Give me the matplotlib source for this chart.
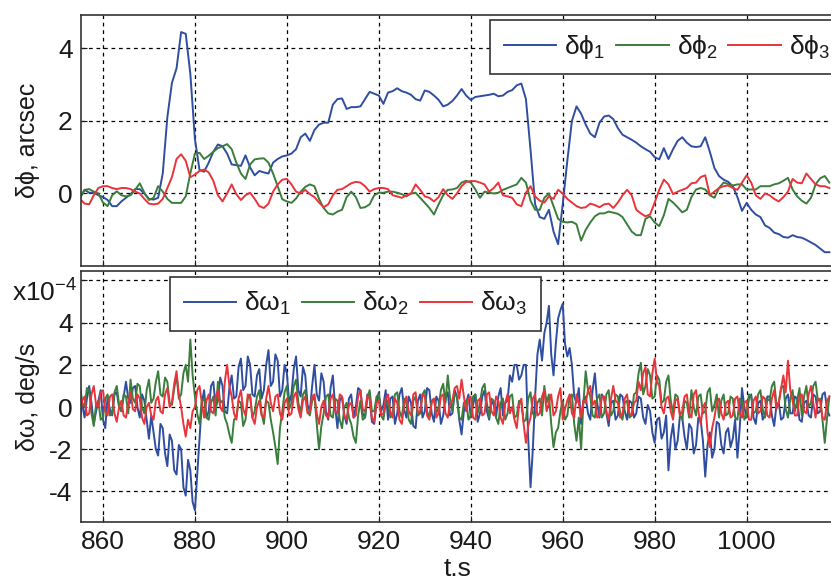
#! /usr/bin/env python3
# Attitude error (arcsec) and rate error (deg/s) vs time, two stacked panels

import numpy as np
import matplotlib
matplotlib.use("Agg")
import matplotlib.pyplot as plt

# time stamps: 1 s step for the angle errors, 0.5 s for the rate errors
t = np.arange(855, 1019)
t_w = np.arange(855, 1018.5, 0.5)

# top panel: delta phi, arcsec
dphi1 = [
    -0.12, 0.10, 0.02, 0.02, -0.05, -0.10, -0.18, -0.35, -0.35, -0.22,
    -0.12, -0.02, 0.12, 0.12, 0.00, -0.15, -0.17, -0.12, 0.55, 2.10,
    3.05, 3.45, 4.45, 4.40, 3.30, 1.50, 0.65, 0.60, 0.85, 1.15,
    1.35, 1.30, 1.10, 0.80, 0.78, 0.76, 1.05, 0.72, 0.50, 0.62,
    0.58, 0.55, 0.85, 0.95, 1.02, 1.05, 1.10, 1.22, 1.55, 1.65,
    1.45, 1.75, 1.90, 1.95, 1.95, 2.45, 2.60, 2.62, 2.33, 2.38,
    2.38, 2.40, 2.60, 2.80, 2.75, 2.70, 2.47, 2.78, 2.82, 2.90,
    2.82, 2.78, 2.72, 2.60, 2.56, 2.84, 2.80, 2.70, 2.58, 2.40,
    2.45, 2.55, 2.70, 2.88, 2.70, 2.58, 2.66, 2.68, 2.70, 2.72,
    2.75, 2.68, 2.70, 2.80, 2.85, 2.98, 3.03, 2.60, 1.20, -0.30,
    -0.65, -0.70, -0.45, -1.05, -1.40, -0.30, 0.90, 2.00, 2.40, 2.20,
    1.90, 1.65, 1.55, 1.95, 2.12, 2.15, 2.05, 1.80, 1.62, 1.55,
    1.48, 1.40, 1.30, 1.22, 1.15, 1.00, 0.94, 1.25, 0.95, 1.22,
    1.45, 1.55, 1.40, 1.30, 1.28, 1.30, 1.55, 1.15, 0.70, 0.48,
    0.38, 0.32, 0.20, -0.10, -0.48, -0.26, -0.45, -0.58, -0.65, -0.88,
    -0.95, -1.08, -1.12, -1.20, -1.22, -1.15, -1.20, -1.22, -1.28, -1.35,
    -1.42, -1.52, -1.62, -1.62,
]
dphi2 = [
    -0.12, 0.10, 0.12, 0.05, 0.00, -0.25, -0.35, -0.05, 0.06, -0.05,
    -0.08, -0.05, 0.10, 0.28, 0.02, -0.18, -0.12, 0.20, 0.05, -0.15,
    -0.26, -0.26, -0.26, -0.08, 0.55, 1.10, 1.12, 0.95, 1.04, 1.15,
    1.25, 1.30, 1.36, 1.22, 0.85, 0.55, 0.40, 0.80, 0.94, 0.96,
    0.97, 0.85, 0.55, 0.20, -0.16, -0.22, -0.26, -0.14, 0.05, 0.18,
    0.25, 0.20, -0.15, -0.40, -0.55, -0.58, -0.50, -0.45, -0.10, 0.05,
    -0.10, -0.40, -0.38, -0.30, -0.05, 0.02, 0.02, 0.05, 0.05, 0.02,
    -0.02, -0.08, 0.00, 0.02, -0.12, -0.26, -0.40, -0.58, -0.30, -0.05,
    0.10, 0.11, 0.15, 0.30, 0.35, 0.30, 0.11, -0.12, 0.05, 0.02,
    0.00, 0.02, 0.10, 0.15, 0.20, 0.25, 0.43, 0.30, -0.20, -0.45,
    -0.45, -0.12, 0.00, -0.35, -0.70, -0.78, -0.80, -0.78, -0.85, -1.30,
    -1.00, -0.80, -0.63, -0.55, -0.55, -0.50, -0.53, -0.56, -0.65, -0.85,
    -1.05, -1.15, -1.15, -0.70, -0.63, -0.80, -0.90, -0.60, -0.15, -0.25,
    -0.38, -0.52, -0.45, -0.10, 0.11, 0.15, 0.11, -0.05, -0.12, 0.15,
    0.30, 0.26, 0.22, 0.25, 0.25, 0.11, 0.11, 0.11, 0.20, 0.20,
    0.20, 0.25, 0.28, 0.35, 0.43, 0.11, -0.08, -0.20, -0.28, -0.12,
    0.25, 0.42, 0.48, 0.30,
]
dphi3 = [
    -0.15, -0.28, -0.30, -0.05, 0.15, 0.20, 0.20, 0.15, 0.12, 0.15,
    0.15, 0.12, 0.05, 0.00, -0.15, -0.28, -0.30, -0.28, -0.15, 0.15,
    0.45, 0.95, 1.08, 0.90, 0.45, 0.52, 0.62, 0.66, 0.58, 0.35,
    -0.05, -0.22, 0.00, 0.25, -0.02, -0.18, -0.05, 0.02, -0.15, -0.35,
    -0.40, -0.28, 0.05, 0.25, 0.38, 0.40, 0.25, 0.05, 0.00, 0.10,
    -0.02, -0.10, -0.25, -0.38, -0.30, -0.05, 0.10, 0.12, 0.20, 0.28,
    0.32, 0.30, 0.20, 0.05, 0.12, 0.15, 0.15, 0.12, -0.05, -0.08,
    -0.12, -0.05, 0.00, 0.25, 0.10, -0.08, -0.12, -0.22, -0.10, 0.12,
    -0.05, -0.15, 0.00, 0.20, 0.32, 0.34, 0.34, 0.30, 0.25, 0.05,
    0.15, 0.30, -0.05, -0.08, -0.12, -0.30, -0.35, 0.02, 0.20, -0.08,
    -0.20, -0.25, -0.08, -0.15, 0.10, 0.00, -0.15, -0.25, -0.35, -0.40,
    -0.38, -0.28, -0.32, -0.38, -0.30, -0.28, -0.40, -0.25, -0.05, 0.10,
    -0.05, -0.45, -0.55, -0.63, -0.58, -0.25, 0.10, 0.38, 0.25, -0.02,
    0.05, 0.10, 0.15, 0.28, 0.30, 0.45, 0.50, -0.05, 0.05, 0.15,
    0.20, 0.22, 0.15, 0.10, 0.30, 0.50, 0.30, -0.05, -0.15, 0.00,
    -0.05, -0.15, -0.22, -0.10, 0.05, 0.40, 0.30, 0.28, 0.55, 0.40,
    0.25, 0.20, 0.20, 0.15,
]

# bottom panel: delta omega, 1e-4 deg/s (20 values = 10 s per row)
dw1 = [
    0.9, 0.1, -0.5, 0.4, 1.0, 0.2, -0.8, -0.2, 0.3, 0.8, -0.6, -1.0, 0.5, -0.1, -0.4, 0.6, 0.7, 0.0, -0.2, 0.5,
    1.2, 0.4, 0.2, 0.9, 1.0, 0.0, -0.5, 0.6, 0.3, -0.6, -1.5, -0.4, -1.2, -2.0, -2.3, -0.8, -1.0, -2.2, -2.8, -1.3,
    -1.6, -3.0, -3.2, -1.8, -2.0, -3.8, -4.2, -2.5, -3.0, -4.5, -4.9, -3.2, -1.5, 0.2, 0.8, -0.5, -0.2, 1.0, 1.2, 0.0,
    0.3, 1.4, 1.0, -0.2, -0.3, 0.9, 1.5, 0.4, 0.5, 1.9, 2.3, 0.8, 1.0, 2.4, 2.0, 0.6, 0.5, 1.5, 1.8, 0.4,
    0.8, 2.0, 2.7, 1.0, 1.2, 2.5, 2.2, 0.5, 0.8, 2.0, 1.6, 0.2, 0.6, 1.8, 2.4, 0.8, 0.5, 1.9, 1.5, 0.1,
    -0.2, 1.0, 2.0, 0.6, 0.3, 1.6, 1.2, -0.2, -0.6, 0.9, 1.5, 0.0, -1.0, 0.3, 0.5, -0.4, -0.8, 0.4, 0.6, -0.5,
    0.0, 0.9, 0.8, -0.3, -0.5, 0.6, 0.4, -0.7, -0.8, 0.2, 0.7, -0.2, 0.1, 0.8, -0.6, 0.4, 0.5, -0.8, -0.3, 0.6,
    0.9, -0.1, -0.5, 0.5, 0.2, -0.9, -1.0, 0.3, 0.6, -0.5, -0.2, 0.9, 0.8, -0.3, -0.7, 0.5, 0.3, -0.8, -0.4, 0.4,
    0.7, -0.4, -0.3, 0.8, 0.5, -0.6, -1.3, -0.2, 0.2, 0.6, -0.5, 0.1, 0.6, -0.7, -0.3, 0.5, 0.8, -0.2, -0.6, 0.3,
    0.1, -0.5, 0.5, 0.9, -0.4, 0.2, 0.3, 1.5, 1.2, 2.0, 2.0, 1.3, 1.5, 2.0, 2.0, -1.5, -3.8, -2.0, 0.5, 2.5,
    3.2, 2.2, 3.5, 4.0, 4.8, 2.5, 1.5, 3.0, 4.2, 4.6, 4.9, 3.0, 2.4, 2.8, 2.0, 0.5, 0.2, 0.9, -0.8, 0.3,
    0.5, -0.3, -0.6, 0.8, 1.6, 0.2, -0.5, 0.6, 0.4, -0.3, -0.9, 0.2, 0.3, -0.6, -0.4, 0.6, 0.5, -0.2, -0.6, 0.3,
    0.2, -0.5, -0.3, 0.5, 0.4, -0.5, -0.8, 0.1, -0.2, -1.2, -1.7, -0.6, -0.5, -1.5, -1.2, -0.4, -3.0, -1.5, -0.8, -2.0,
    -1.6, -0.4, -0.5, -1.4, -2.0, -0.8, -1.0, -2.2, -1.8, -0.5, -0.6, -1.6, -3.3, -1.8, -1.2, -2.4, -2.0, -0.7, -0.8, -1.8,
    -2.2, -1.2, -1.0, -1.9, -1.5, -0.6, -2.4, -1.0, 0.9, 0.0, -0.5, 0.4, 0.6, -0.5, -0.8, 0.2, 0.3, -0.6, -0.4, 0.5,
    0.5, -0.4, -0.9, 0.1, 0.2, -0.6, -0.5, 0.4, 0.6, -0.3, -0.3, 0.5, 0.4, -0.6, -0.7, 0.2, 0.3, -0.4, -0.5, 0.6,
    0.5, -0.3, -0.2, 0.6, 0.7, -0.1, -0.4,
]
dw2 = [
    1.0, 0.2, 0.0, 0.9, 0.8, -0.3, -0.9, 0.1, 0.3, -0.6, -0.5, 0.4, 0.6, -0.4, -0.3, 0.7, 1.0, 0.1, -0.2, 0.6,
    0.5, -0.3, 1.3, 0.4, 0.2, 1.1, 1.0, 0.0, -0.3, 0.8, 1.3, 0.2, 0.4, 1.2, 1.7, 0.6, 0.5, 1.4, 1.2, 0.2,
    0.1, 0.9, 1.5, 0.4, 0.6, 1.6, 2.0, 1.2, 3.2, 1.5, 0.5, -0.3, -0.8, 0.3, 0.4, -0.5, -0.6, 0.2, 0.5, -0.4,
    1.2, 0.2, 0.3, -0.5, -0.8, -1.3, -1.7, -0.6, -0.5, 0.3, 0.2, -0.9, -0.6, 0.4, 0.6, -0.5, -0.2, 0.5, 0.8, -0.3,
    -0.8, 0.3, 0.2, -0.6, -1.2, -1.9, -2.7, -1.0, -0.2, 0.7, 1.0, -0.1, 0.2, 1.0, 1.3, 0.2, -0.3, 0.6, 0.8, -0.2,
    -0.4, 0.3, 0.5, -0.8, -2.0, -0.9, -0.3, 0.5, 0.6, -0.4, -0.5, 0.4, 0.3, -0.6, -1.0, 0.0, 0.2, -0.5, -0.8, -1.4,
    -1.7, -0.4, 0.3, -0.6, -0.5, 0.4, 0.8, -0.2, -0.2, 0.5, 0.6, -0.4, -0.6, 0.2, 0.3, -0.5, -0.3, 0.6, 0.7, -0.2,
    -0.5, 0.4, 0.2, -0.6, -0.8, 0.3, 0.5, -0.4, -0.3, 0.6, 0.8, -0.2, -0.5, 0.3, 0.4, -0.3, 0.0, 0.8, 1.1, 0.2,
    1.5, 0.4, -0.2, 0.6, 0.5, -0.5, -0.6, 0.2, 0.3, -0.6, -0.4, 0.5, 0.6, -0.3, 0.2, 0.9, 1.1, 0.2, -0.5, 0.4,
    0.3, -0.5, -0.8, 0.2, 0.4, -0.6, -0.3, 0.5, 0.6, -0.5, -0.4, 0.3, 0.2, -0.7, -0.6, 0.4, 0.7, -0.3, -0.5, 0.2,
    0.4, -0.4, 1.0, 0.2, 0.6, -0.8, -1.9, -1.2, -1.0, -0.2, 0.3, -0.6, -0.4, 0.5, 0.6, -0.8, -1.6, -0.5, -2.0, 0.2,
    1.7, 0.8, 0.5, -0.4, -0.5, 0.4, 0.6, -0.5, -0.3, 0.6, 0.8, -0.4, -0.2, 0.6, 0.5, -0.3, -0.6, 0.2, 0.3, -0.5,
    -0.4, 0.6, 0.7, 1.6, 2.1, 0.6, 1.0, 1.8, 1.5, 0.4, 0.5, 1.5, 1.3, 0.2, 0.3, 1.2, 1.5, 0.3, -0.3, 0.6,
    0.5, -0.4, -0.6, 0.3, 0.2, -0.5, 0.8, 0.0, -0.4, 0.5, 0.6, -0.3, -0.2, 0.7, 0.9, -0.2, 0.1, 0.6, -0.5, 0.3,
    0.6, -0.4, -0.3, 0.5, 0.4, -0.5, -0.6, 0.4, 0.3, -0.6, -0.4, 0.6, 0.5, -0.3, -0.2, 0.6, 0.8, -0.1, -0.5, 0.4,
    0.3, 1.0, 1.2, 0.1, 0.2, 0.9, 1.0, -0.1, -0.5, 0.4, 0.8, -0.2, 0.3, 0.9, -0.4, 0.5, 1.0, 0.0, 0.2, 1.0,
    1.2, 0.3, 0.4, -0.6, -1.7, -0.5, 0.5,
]
dw3 = [
    -0.5, 0.3, 0.5, -0.4, -0.3, 0.6, 1.0, 0.1, 0.0, 0.7, 0.8, -0.2, -0.4, 0.5, 0.6, -0.3, -0.7, 0.0, 0.3, -0.4,
    -0.5, 0.2, 0.7, -0.1, -0.2, 0.6, 0.4, -0.5, -0.8, 0.0, 0.2, -0.4, -0.6, 0.3, 0.5, -0.2, -0.3, 0.6, 0.9, 0.0,
    0.2, 1.1, 1.7, 0.6, 0.0, -0.8, -1.4, -0.6, -1.0, -0.2, 0.0, 0.8, 1.0, 0.2, -0.5, 0.3, 0.6, -0.2, -0.3, 0.5,
    0.8, 0.0, -0.2, 1.2, 2.0, 1.0, 0.5, -0.3, -0.6, 0.4, 0.8, -0.1, -0.4, 0.6, 0.5, -0.5, -0.8, 0.0, 0.3, -0.4,
    -0.5, 0.4, 1.0, 0.2, -0.2, 0.5, 0.6, -0.3, -0.6, 0.2, 0.4, -0.4, -0.3, 0.5, 0.7, -0.1, -0.5, 0.3, 0.5, -0.3,
    -0.2, 0.5, 0.6, -0.3, -0.8, 0.0, 0.3, -0.4, -0.5, 0.4, 0.6, -0.2, -0.3, 0.6, 0.5, -0.4, -0.6, 0.1, 0.2, -0.5,
    -0.4, 0.5, 0.8, -0.1, -0.2, 0.5, 0.4, -0.5, -0.7, 0.2, 0.3, -0.4, -0.3, 0.4, 0.6, -0.2, -0.5, 0.4, 0.2, -0.6,
    -0.8, 0.1, 0.5, -0.2, -0.4, 0.6, 0.7, -0.3, -0.2, 0.6, 0.5, -0.4, -0.6, 0.2, 0.4, -0.5, -0.3, 0.5, 0.6, -0.3,
    -0.5, 0.2, 0.3, 0.9, 1.0, 0.4, 1.3, 0.5, -0.2, 0.4, 0.5, -0.5, -0.6, 0.3, 0.4, -0.4, -0.3, 0.6, 0.7, -0.2,
    -0.4, 0.5, 0.3, -0.5, -0.8, 0.2, 0.6, -0.3, 0.0, -0.6, -1.0, 0.1, 0.4, -0.8, -1.7, -0.9, -0.5, 0.4, 0.6, -0.4,
    -0.3, 0.5, 0.8, -0.2, 0.2, 0.6, -0.4, -0.2, 0.5, 0.9, -0.6, -0.1, 0.3, 0.6, -0.3, -0.5, 0.6, 0.2, -0.5, 0.3,
    0.2, 0.8, 1.0, 0.1, 0.3, -0.5, -0.4, 0.5, 0.5, -0.2, -0.6, 0.4, 1.0, 0.3, 0.2, -0.5, -0.3, 0.4, 0.6, -0.3,
    -0.4, 0.2, 0.3, 1.2, 0.8, 1.6, 1.9, 0.6, 0.5, 1.6, 2.3, 1.2, 1.0, 0.0, -0.3, 0.4, 0.5, -0.2, -0.6, 0.3,
    0.4, -0.4, -0.2, 0.5, 0.6, -0.3, -0.5, 0.6, 0.8, -0.2, -0.8, 0.0, 0.2, -1.2, -1.9, -1.0, -0.5, 0.2, 0.4, -0.3,
    -0.6, 0.2, 0.3, -0.5, -0.4, 0.4, 0.5, -0.3, -0.5, 0.2, 0.3, -0.6, -0.6, 0.3, 0.5, -0.3, -0.2, 0.5, 0.4, -0.4,
    -0.5, 0.4, 0.8, -0.1, 0.2, 0.9, 1.5, 0.7, 2.2, 0.8, 0.3, -0.4, -0.4, 0.5, 0.6, -0.2, -0.3, 0.6, 1.0, 0.2,
    -0.5, 0.4, 0.3, -0.5, -0.6, 0.3, 0.5,
]

xticks = [860, 880, 900, 920, 940, 960, 980, 1000]
phi_labels = ["δϕ$_1$", "δϕ$_2$", "δϕ$_3$"]
omega_labels = ["δω$_1$", "δω$_2$", "δω$_3$"]

colors = ["#2f4ea0", "#3a7d3c", "#e8343a"]
txt = "#1a1a1a"
FS = 19


def style_axes(ax):
    ax.grid(True, color="black", linestyle=(0, (3, 3)), linewidth=0.9)
    ax.tick_params(direction="in", length=4, labelsize=FS, colors=txt,
                   pad=6, width=0.8)
    for s in ax.spines.values():
        s.set_color("#333333")
        s.set_linewidth(1.2)
    ax.set_xticks(xticks)
    ax.set_xlim(855.22, 1018.9)


def add_legend(ax, anchor):
    leg = ax.legend(loc="upper left", bbox_to_anchor=anchor, ncol=3,
                    fontsize=FS, frameon=True, fancybox=False, framealpha=1,
                    edgecolor="#333333", handlelength=2.0, columnspacing=0.4,
                    handletextpad=0.3, borderpad=0.5, borderaxespad=0)
    leg.get_frame().set_linewidth(1.2)
    for tx in leg.get_texts():
        tx.set_color(txt)
    return leg


def main():
    plt.rcParams["font.family"] = ["Liberation Sans", "DejaVu Sans"]
    plt.rcParams["mathtext.fontset"] = "custom"
    plt.rcParams["mathtext.rm"] = "Liberation Sans"
    plt.rcParams["mathtext.it"] = "Liberation Sans"
    plt.rcParams["mathtext.default"] = "regular"

    fig = plt.figure(figsize=(8.31, 5.85), dpi=100)
    W, H = 831.0, 585.0
    left, right = 81 / W, 833.5 / W
    ax1 = fig.add_axes([left, 1 - 266 / H, right - left, 251 / H])
    ax2 = fig.add_axes([left, 1 - 522 / H, right - left, 251 / H])

    # top panel
    for y, c, lab in zip([dphi1, dphi2, dphi3], colors, phi_labels):
        ax1.plot(t, y, color=c, lw=1.4, label=lab)
    style_axes(ax1)
    ax1.set_ylim(-2.0, 4.92)
    ax1.set_yticks([0, 2, 4])
    ax1.set_xticklabels([])
    ax1.set_ylabel("δϕ, arcsec", fontsize=18, color=txt)
    ax1.yaxis.set_label_coords(-0.055, 0.5)
    add_legend(ax1, (0.544, 0.98))

    # bottom panel
    for y, c, lab in zip([dw1, dw2, dw3], colors, omega_labels):
        ax2.plot(t_w, y, color=c, lw=1.4, label=lab)
    style_axes(ax2)
    ax2.set_ylim(-5.45, 6.45)
    ax2.set_yticks([-4, -2, 0, 2, 4, 6])
    ax2.set_yticklabels(["-4", "-2", "0", "2", "4", ""])
    ax2.set_ylabel("δω, deg/s", fontsize=18, color=txt)
    ax2.yaxis.set_label_coords(-0.055, 0.5)
    ax2.set_xlabel("t.s", fontsize=FS, color=txt, labelpad=2)
    add_legend(ax2, (0.1187, 0.976))

    fig.text(12 / W, 1 - 302 / H, "x10$^{-4}$", fontsize=FS, color=txt,
             ha="left", va="baseline")

    fig.savefig("out.png", dpi=100)


if __name__ == "__main__":
    main()
